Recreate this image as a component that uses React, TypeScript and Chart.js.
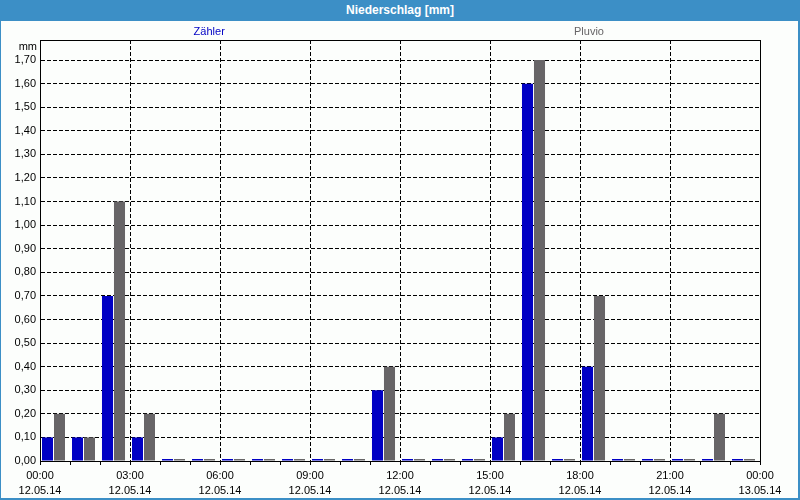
import React, { useEffect, useRef } from "react";
import { Chart, registerables } from "chart.js";

Chart.register(...registerables);

const TITLE = "Niederschlag [mm]";
const UNIT = "mm";
const HOURS = Array.from({ length: 24 }, (_, i) => i);
const SERIES_NAMES = ["Zähler", "Pluvio"];
const ZAEHLER = [0.1, 0.1, 0.7, 0.1, 0, 0, 0, 0, 0, 0, 0, 0.3, 0, 0, 0, 0.1, 1.6, 0, 0.4, 0, 0, 0, 0, 0];
const PLUVIO = [0.2, 0.1, 1.1, 0.2, 0, 0, 0, 0, 0, 0, 0, 0.4, 0, 0, 0, 0.2, 1.7, 0, 0.7, 0, 0, 0, 0.2, 0];
const Y_TICKS = [0, 0.1, 0.2, 0.3, 0.4, 0.5, 0.6, 0.7, 0.8, 0.9, 1.0, 1.1, 1.2, 1.3, 1.4, 1.5, 1.6, 1.7];
const X_TIME_LABELS = ["00:00", "03:00", "06:00", "09:00", "12:00", "15:00", "18:00", "21:00", "00:00"];
const X_DATE_LABELS = ["12.05.14", "12.05.14", "12.05.14", "12.05.14", "12.05.14", "12.05.14", "12.05.14", "12.05.14", "13.05.14"];

const BLUE = "#0000c4";
const GRAY = "#676567";
const FRAME = "#3c8fc6";
const BG = "#fcfefc";
const FONT = "'Liberation Sans', Arial, sans-serif";
const BAR_OFFSET = 0.45;
const DASH = [4, 2];

export default function App() {
  const ref = useRef<HTMLCanvasElement | null>(null);

  useEffect(() => {
    document.body.style.margin = "0";
    const canvas = ref.current;
    if (!canvas) return;
    const yMax = Math.max(...ZAEHLER, ...PLUVIO) * 1.05;

    const overlay = {
      id: "overlay",
      afterDatasetsDraw(chart: any) {
        const { ctx, chartArea } = chart;
        ctx.save();
        ctx.strokeStyle = "#000";
        ctx.lineWidth = 1;
        ctx.setLineDash([]);
        ctx.strokeRect(
          Math.round(chartArea.left) + 0.5,
          Math.round(chartArea.top) + 0.5,
          Math.round(chartArea.right - chartArea.left),
          Math.round(chartArea.bottom - chartArea.top)
        );
        ctx.font = `11px ${FONT}`;
        ctx.textBaseline = "middle";
        ctx.fillStyle = "#000";
        ctx.textAlign = "right";
        ctx.fillText(UNIT, chartArea.left - 3, chartArea.top + 7);
        const w = chartArea.right - chartArea.left;
        const fr = [0.235, 0.7625];
        chart.data.datasets.forEach((ds: any, i: number) => {
          ctx.fillStyle = ds.backgroundColor;
          ctx.textAlign = "center";
          ctx.fillText(ds.label, chartArea.left + w * fr[i], 11);
        });
        ctx.restore();
      },
    };

    const chart = new Chart(canvas, {
      type: "bar",
      data: {
        datasets: [
          {
            label: SERIES_NAMES[0],
            data: HOURS.map((h, i) => ({ x: h + BAR_OFFSET, y: ZAEHLER[i] })),
            backgroundColor: BLUE,
            borderWidth: 0,
            minBarLength: 2,
            categoryPercentage: 0.8,
            barPercentage: 0.92,
          },
          {
            label: SERIES_NAMES[1],
            data: HOURS.map((h, i) => ({ x: h + BAR_OFFSET, y: PLUVIO[i] })),
            backgroundColor: GRAY,
            borderWidth: 0,
            minBarLength: 2,
            categoryPercentage: 0.8,
            barPercentage: 0.92,
          },
        ],
      },
      options: {
        responsive: false,
        animation: false,
        devicePixelRatio: 1,
        layout: { padding: { top: 19, right: 38, left: 0, bottom: 0 } },
        plugins: {
          legend: { display: false },
          tooltip: { enabled: false },
          title: { display: false },
        },
        scales: {
          x: {
            type: "linear",
            min: 0,
            max: 24,
            offset: false,
            afterFit: (s: any) => {
              s.height = 37;
            },
            afterBuildTicks: (s: any) => {
              s.ticks = Array.from({ length: 25 }, (_, i) => ({ value: i }));
            },
            ticks: {
              autoSkip: false,
              maxRotation: 0,
              minRotation: 0,
              padding: 3,
              color: "#000",
              font: { family: FONT, size: 11, lineHeight: 15 / 11 },
              callback: (v: any) => {
                const n = Math.round(Number(v));
                if (n % 3 !== 0) return "";
                const k = n / 3;
                return [X_TIME_LABELS[k], X_DATE_LABELS[k]];
              },
            },
            grid: {
              offset: false,
              color: (c: any) =>
                c.tick && Math.round(c.tick.value) % 3 === 0 && c.tick.value > 0 && c.tick.value < 24
                  ? "#000"
                  : "rgba(0,0,0,0)",
              tickColor: "#000",
              tickLength: 4,
              drawTicks: true,
              lineWidth: 1,
              tickBorderDash: [],
            },
            border: { display: true, color: "#000", dash: DASH },
          },
          y: {
            min: 0,
            max: yMax,
            afterFit: (s: any) => {
              s.width = 39;
            },
            afterBuildTicks: (s: any) => {
              s.ticks = Y_TICKS.map((v) => ({ value: v }));
            },
            ticks: {
              padding: 4,
              color: "#000",
              font: { family: FONT, size: 11 },
              callback: (v: any) => Number(v).toFixed(2).replace(".", ","),
            },
            grid: {
              color: "#000",
              drawTicks: false,
              lineWidth: 1,
            },
            border: { display: true, color: "#000", dash: DASH },
          },
        },
      } as any,
      plugins: [overlay],
    });
    return () => chart.destroy();
  }, []);

  return (
    <div
      style={{
        position: "relative",
        width: 800,
        height: 500,
        background: FRAME,
        overflow: "hidden",
      }}
    >
      <div
        style={{
          position: "absolute",
          left: 0,
          top: 0,
          width: 800,
          height: 21,
          lineHeight: "20px",
          textAlign: "center",
          color: "#fff",
          fontFamily: FONT,
          fontWeight: "bold",
          fontSize: 12,
        }}
      >
        {TITLE}
      </div>
      <div style={{ position: "absolute", left: 1, top: 21, width: 797, height: 477, background: BG }}>
        <canvas ref={ref} width={797} height={477} style={{ display: "block" }} />
      </div>
    </div>
  );
}
